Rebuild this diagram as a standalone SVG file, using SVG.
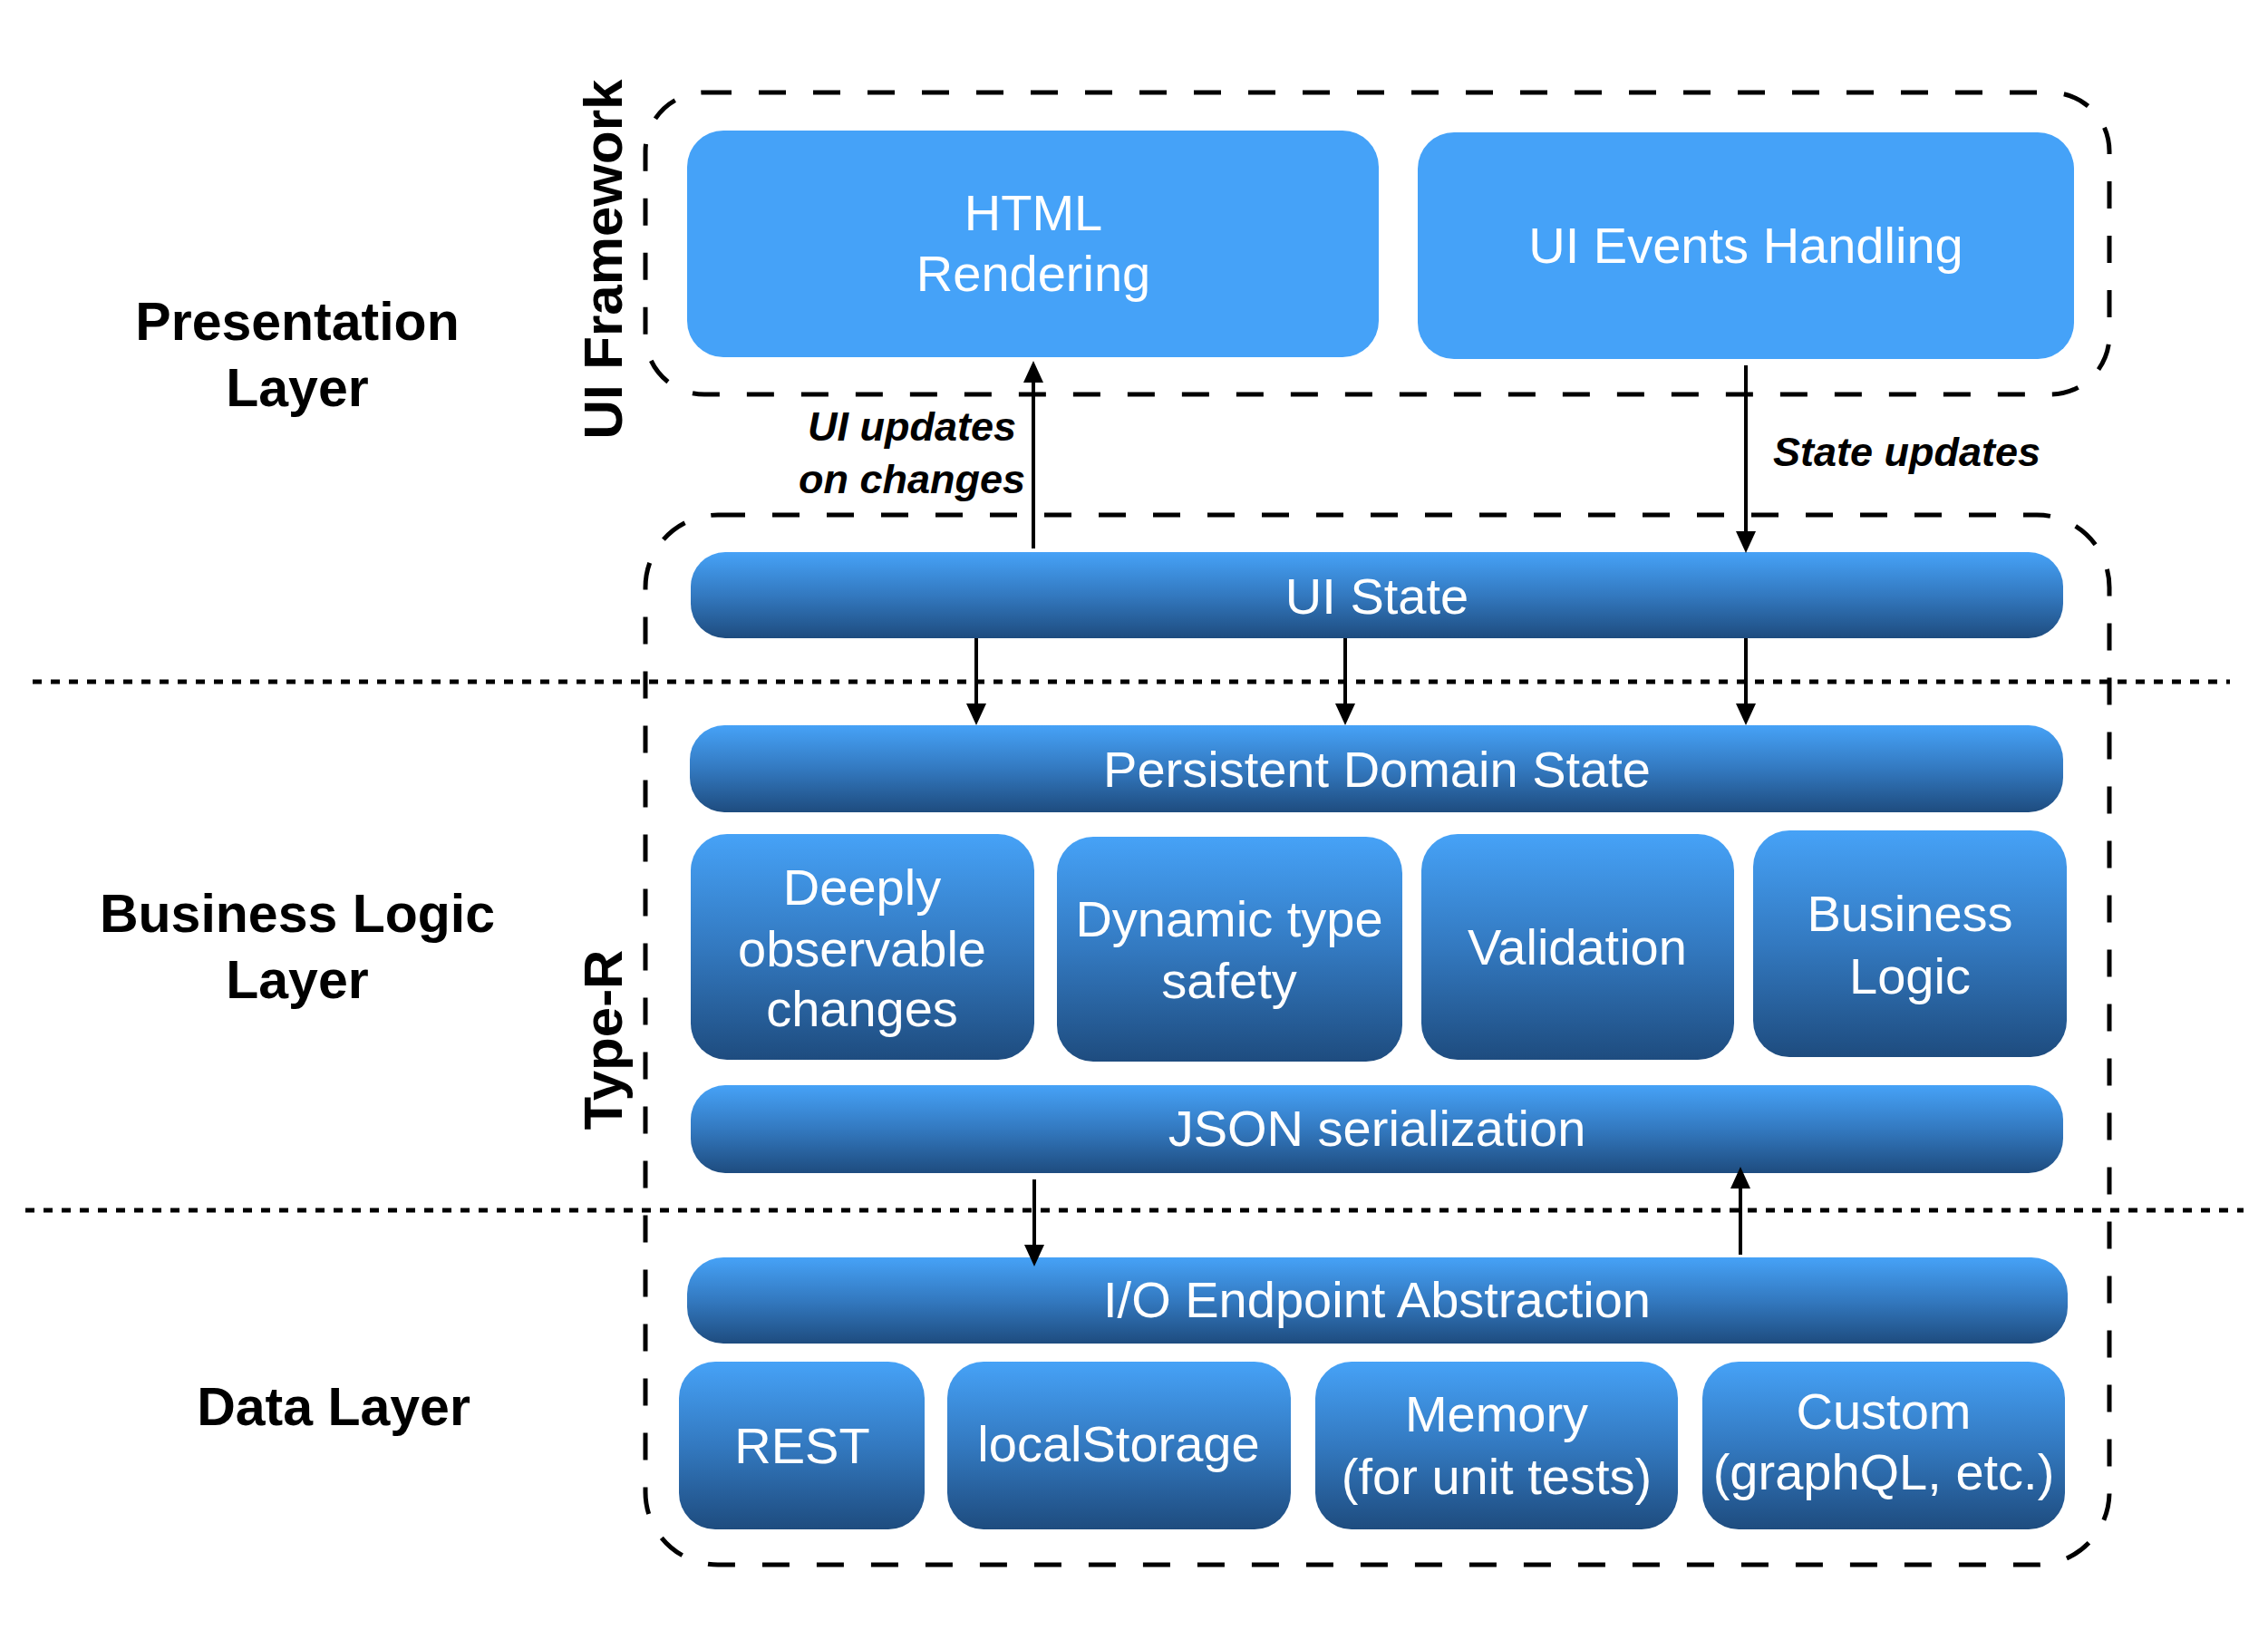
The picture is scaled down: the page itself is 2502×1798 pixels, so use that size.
<svg xmlns="http://www.w3.org/2000/svg" width="2502" height="1798" viewBox="0 0 2502 1798">
<defs>
<linearGradient id="bar" x1="0" y1="0" x2="0" y2="1">
<stop offset="0" stop-color="#46a2f7"/>
<stop offset="0.5" stop-color="#3379c0"/>
<stop offset="1" stop-color="#1e4c7f"/>
</linearGradient>
<marker id="ah" markerUnits="userSpaceOnUse" markerWidth="24" markerHeight="22" refX="0" refY="11" orient="auto">
<path d="M0,0 L24,11 L0,22 Z" fill="#000"/>
</marker>
<style>
.frame{fill:none;stroke:#000;stroke-width:5;stroke-dasharray:30 30;}
.sep{fill:none;stroke:#000;stroke-width:5;stroke-dasharray:10 10;}
.flat{fill:#45a2f8;}
.grad{fill:url(#bar);}
.wt{font-family:"Liberation Sans",Arial,Helvetica,sans-serif;font-size:56px;fill:#fff;text-anchor:middle;}
.lbl{font-family:"Liberation Sans",Arial,Helvetica,sans-serif;font-size:59px;font-weight:bold;fill:#000;text-anchor:middle;}
.rot{font-family:"Liberation Sans",Arial,Helvetica,sans-serif;font-size:60px;font-weight:bold;fill:#000;text-anchor:middle;}
.it{font-family:"Liberation Sans",Arial,Helvetica,sans-serif;font-size:45px;font-weight:bold;font-style:italic;fill:#000;}
.conn{stroke:#000;stroke-width:4;fill:none;marker-end:url(#ah);}
</style>
</defs>
<rect width="2502" height="1798" fill="#fff"/>

<g id="layer-separators">
<line class="sep" x1="36" y1="752" x2="2460" y2="752"/>
<line class="sep" x1="28" y1="1335" x2="2475" y2="1335"/>
</g>

<g id="layer-labels">
<text class="lbl" x="328" y="375">Presentation</text>
<text class="lbl" x="328" y="448">Layer</text>
<text class="lbl" x="328" y="1028">Business Logic</text>
<text class="lbl" x="328" y="1101">Layer</text>
<text class="lbl" x="368" y="1572">Data Layer</text>
</g>

<g id="ui-framework">
<rect class="frame" x="712" y="102" width="1615" height="333" rx="65" ry="65"/>
<text class="rot" transform="translate(686,286) rotate(-90)">UI Framework</text>
</g>

<g id="type-r">
<rect class="frame" x="712" y="568" width="1615" height="1158" rx="80" ry="80"/>
<text class="rot" transform="translate(686,1147) rotate(-90)">Type-R</text>
</g>

<g id="html-rendering">
<rect class="flat" x="758" y="144" width="763" height="250" rx="40" ry="40"/>
<text class="wt" x="1140" y="254">HTML</text>
<text class="wt" x="1140" y="321">Rendering</text>
</g>

<g id="ui-events-handling">
<rect class="flat" x="1564" y="146" width="724" height="250" rx="40" ry="40"/>
<text class="wt" x="1926" y="290">UI Events Handling</text>
</g>

<g id="ui-state">
<rect class="grad" x="762" y="609" width="1514" height="95" rx="38" ry="38"/>
<text class="wt" x="1519" y="677">UI State</text>
</g>

<g id="persistent-domain-state">
<rect class="grad" x="761" y="800" width="1515" height="96" rx="38" ry="38"/>
<text class="wt" x="1519" y="868">Persistent Domain State</text>
</g>

<g id="deeply-observable-changes">
<rect class="grad" x="762" y="920" width="379" height="249" rx="40" ry="40"/>
<text class="wt" x="951" y="998">Deeply</text>
<text class="wt" x="951" y="1066">observable</text>
<text class="wt" x="951" y="1132">changes</text>
</g>

<g id="dynamic-type-safety">
<rect class="grad" x="1166" y="923" width="381" height="248" rx="40" ry="40"/>
<text class="wt" x="1356" y="1033">Dynamic type</text>
<text class="wt" x="1356" y="1101">safety</text>
</g>

<g id="validation">
<rect class="grad" x="1568" y="920" width="345" height="249" rx="40" ry="40"/>
<text class="wt" x="1740" y="1064">Validation</text>
</g>

<g id="business-logic">
<rect class="grad" x="1934" y="916" width="346" height="250" rx="40" ry="40"/>
<text class="wt" x="2107" y="1027">Business</text>
<text class="wt" x="2107" y="1096">Logic</text>
</g>

<g id="json-serialization">
<rect class="grad" x="762" y="1197" width="1514" height="97" rx="38" ry="38"/>
<text class="wt" x="1519" y="1264">JSON serialization</text>
</g>

<g id="io-endpoint-abstraction">
<rect class="grad" x="758" y="1387" width="1523" height="95" rx="40" ry="40"/>
<text class="wt" x="1519" y="1453">I/O Endpoint Abstraction</text>
</g>

<g id="rest">
<rect class="grad" x="749" y="1502" width="271" height="185" rx="40" ry="40"/>
<text class="wt" x="885" y="1614">REST</text>
</g>

<g id="localstorage">
<rect class="grad" x="1045" y="1502" width="379" height="185" rx="40" ry="40"/>
<text class="wt" x="1234" y="1612">localStorage</text>
</g>

<g id="memory">
<rect class="grad" x="1451" y="1502" width="400" height="185" rx="40" ry="40"/>
<text class="wt" x="1651" y="1579">Memory</text>
<text class="wt" x="1651" y="1648">(for unit tests)</text>
</g>

<g id="custom">
<rect class="grad" x="1878" y="1502" width="400" height="185" rx="40" ry="40"/>
<text class="wt" x="2078" y="1576">Custom</text>
<text class="wt" x="2078" y="1643">(graphQL, etc.)</text>
</g>

<g id="connectors">
<line class="conn" x1="1140" y1="605" x2="1140" y2="422"/>
<line class="conn" x1="1926" y1="403" x2="1926" y2="586"/>
<line class="conn" x1="1077" y1="704" x2="1077" y2="776"/>
<line class="conn" x1="1484" y1="704" x2="1484" y2="776"/>
<line class="conn" x1="1926" y1="704" x2="1926" y2="776"/>
<line class="conn" x1="1141" y1="1301" x2="1141" y2="1373"/>
<line class="conn" x1="1920" y1="1384" x2="1920" y2="1311"/>
<text class="it" x="1006" y="486" text-anchor="middle">UI updates</text>
<text class="it" x="1006" y="544" text-anchor="middle">on changes</text>
<text class="it" x="1956" y="514">State updates</text>
</g>
</svg>
